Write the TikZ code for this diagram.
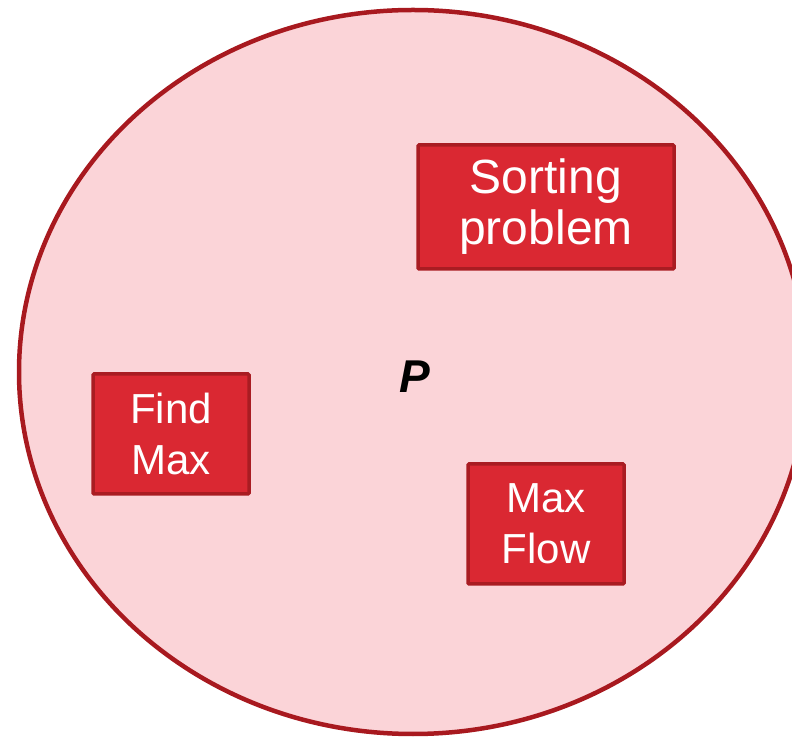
\documentclass[tikz,border=0pt]{standalone}
\usepackage{fontspec}
\setmainfont{Liberation Sans}
\usepackage{xcolor}
\usepackage{tikz}
\usetikzlibrary{shapes,positioning,calc}
\definecolor{setfill}{HTML}{FBD4D8}
\definecolor{setline}{HTML}{A8191F}
\definecolor{boxfill}{HTML}{DA2832}
\definecolor{boxline}{HTML}{A91C22}
\tikzset{
classset/.style = {draw=setline, fill=setfill, line width=4.5pt},
problem/.style = {draw=boxline, fill=boxfill, line width=3.5pt, rectangle, rounded corners=1pt, inner sep=0pt, align=center, text=white, minimum width=156pt, minimum height=120pt, font=\fontsize{42}{51}\selectfont},
setlabel/.style = {inner sep=0pt, font=\fontsize{46}{50}\selectfont\bfseries\itshape}
}
\begin{document}
\begin{tikzpicture}[x=1pt, y=1pt, node distance=100pt]
    \useasboundingbox (0,0) rectangle (792,736);
    \clip (0,0) rectangle (792,736);
    \draw [classset] (413,364) ellipse (394 and 362);
    \node [setlabel] (p) at (415,359) {P};
    \node [problem, right of=p, node distance=131pt, yshift=170pt, minimum width=256pt, minimum height=124pt, font=\fontsize{48}{51}\selectfont] (sorting) {Sorting\\problem};
    \node [problem, left of=p, node distance=244pt, yshift=-57pt] (findmax) {Find\\Max};
    \node [problem, right of=p, node distance=131pt, yshift=-147pt] (maxflow) {Max\\Flow};
\end{tikzpicture}
\end{document}
